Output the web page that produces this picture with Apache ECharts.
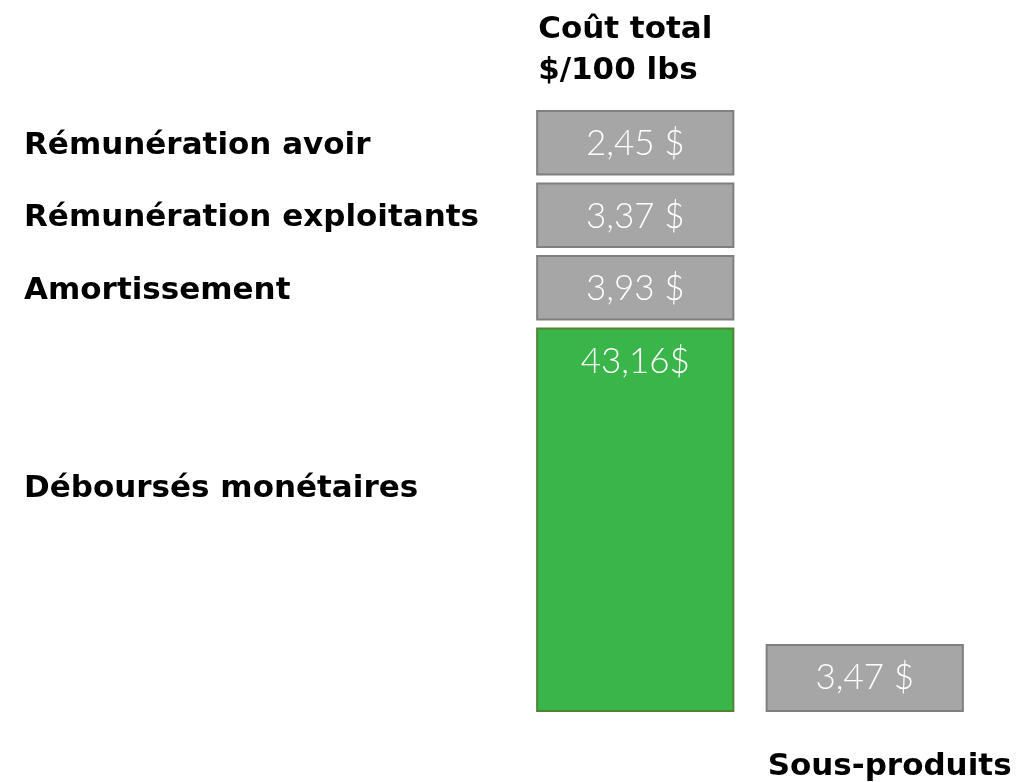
<!DOCTYPE html>
<html>
<head>
<meta charset="utf-8">
<script src="https://cdn.jsdelivr.net/npm/echarts@6/dist/echarts.min.js"></script>
<style>
    html, body { margin: 0; padding: 0; background: #fff; }
    #main { width: 1033px; height: 782px; }
</style>
</head>
<body>
<div id="main"></div>
<script>
// colonnes du schéma
const columns = ['Coût total\n$/100 lbs', 'Sous-produits'];

// composantes du coût total, du bas vers le haut
const costItems = ['Déboursés monétaires', 'Amortissement', 'Rémunération exploitants', 'Rémunération avoir'];
const costValues = [43.16, 3.93, 3.37, 2.45];
const costSuffix = ['$', ' $', ' $', ' $'];

// sous-produits
const byproductValues = [3.47];
const byproductSuffix = [' $'];

// le schéma n'est pas à l'échelle : hauteur d'affichage de chaque bloc (en cases)
const costSpans = [5.4, 1, 1, 1];
const byproductSpan = 0.91;
const GAP = 0.125;

const boldFont = { fontFamily: 'DejaVu Sans', fontWeight: 'bold', fontSize: 31 };
const valueFont = { fontFamily: 'Lato', fontWeight: 300, fontSize: 35 };
const greyBox = { fill: '#a6a6a6', stroke: '#7f7f7f' };
const greenBox = { fill: '#39b54a', stroke: '#548235' };

function fmt(v) {
    return v.toFixed(2).replace('.', ',');
}

// blocs empilés
let start = 0;
const costData = costValues.map((v, i) => {
    const item = [0, start, start + costSpans[i] - GAP, v];
    start += costSpans[i];
    return item;
});
const byproductData = byproductValues.map(v => [1, 0, byproductSpan, v]);

function boxRender(labels, suffixes, header) {
    return function (params, api) {
        const i = params.dataIndex;
        const col = api.value(0);
        const pTop = api.coord([col, api.value(2)]);
        const pBottom = api.coord([col, api.value(1)]);
        const bw = api.size([1, 0])[0] * 0.855;
        const x = pTop[0] - bw / 2;
        const y = pTop[1];
        const h = pBottom[1] - pTop[1];
        const st = (labels && i === 0) ? greenBox : greyBox;
        const children = [
            {
                type: 'rect',
                shape: { x: x, y: y, width: bw, height: h },
                style: { fill: st.fill, stroke: st.stroke, lineWidth: 2 }
            },
            {
                type: 'text',
                style: Object.assign({
                    x: x + bw / 2, y: y + 33,
                    text: fmt(api.value(3)) + suffixes[i],
                    align: 'center', verticalAlign: 'middle', fill: '#fff'
                }, valueFont)
            }
        ];
        if (labels) {
            children.push({
                type: 'text',
                style: Object.assign({
                    x: 24, y: h > 100 ? y + h * 0.42 : y + h / 2 + 3,
                    text: labels[i], align: 'left', verticalAlign: 'middle', fill: '#000'
                }, boldFont)
            });
        }
        if (header && header.index === i) {
            children.push({
                type: 'text',
                style: Object.assign({
                    x: x + 1,
                    y: header.above ? y - 20 : pBottom[1] + 35,
                    text: header.text, align: 'left',
                    verticalAlign: header.above ? 'bottom' : 'top',
                    lineHeight: 41, fill: '#000'
                }, boldFont)
            });
        }
        return { type: 'group', children: children };
    };
}

const chart = echarts.init(document.getElementById('main'));
const option = {
    animation: false,
    grid: { left: 520.5, right: 53.5, top: 102, bottom: 71 },
    xAxis: {
        type: 'category',
        data: columns,
        show: false
    },
    yAxis: {
        type: 'value',
        min: 0,
        max: 8.4,
        show: false
    },
    series: [
        {
            name: 'Coût total',
            type: 'custom',
            clip: false,
            renderItem: boxRender(costItems, costSuffix,
                { index: costValues.length - 1, text: columns[0], above: true }),
            data: costData
        },
        {
            name: 'Sous-produits',
            type: 'custom',
            clip: false,
            renderItem: boxRender(null, byproductSuffix,
                { index: 0, text: columns[1], above: false }),
            data: byproductData
        }
    ]
};
chart.setOption(option);
</script>
</body>
</html>
